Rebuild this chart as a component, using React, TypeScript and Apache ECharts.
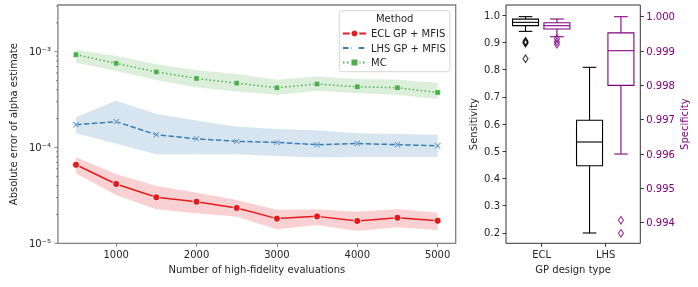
import React, { useEffect, useRef } from 'react';
import * as echarts from 'echarts';

// ---------- data ----------
const evals = [500, 1000, 1500, 2000, 2500, 3000, 3500, 4000, 4500, 5000];

const eclMean = [6.6e-5, 4.16e-5, 3.02e-5, 2.72e-5, 2.34e-5, 1.81e-5, 1.91e-5, 1.71e-5, 1.85e-5, 1.72e-5];
const eclUpper = [7.9e-5, 5.25e-5, 3.96e-5, 3.37e-5, 2.83e-5, 2.23e-5, 2.25e-5, 2.14e-5, 2.26e-5, 2.09e-5];
const eclLower = [5.38e-5, 3.19e-5, 2.26e-5, 2.06e-5, 1.9e-5, 1.4e-5, 1.55e-5, 1.35e-5, 1.47e-5, 1.38e-5];

const lhsMean = [1.73e-4, 1.86e-4, 1.36e-4, 1.23e-4, 1.16e-4, 1.13e-4, 1.07e-4, 1.1e-4, 1.07e-4, 1.04e-4];
const lhsUpper = [2.07e-4, 3.08e-4, 2.24e-4, 1.91e-4, 1.65e-4, 1.56e-4, 1.5e-4, 1.41e-4, 1.38e-4, 1.35e-4];
const lhsLower = [1.41e-4, 1.1e-4, 8.5e-5, 8.5e-5, 8.5e-5, 8.15e-5, 7.9e-5, 8.0e-5, 8.0e-5, 8.0e-5];

const mcMean = [9.3e-4, 7.55e-4, 6.15e-4, 5.25e-4, 4.7e-4, 4.2e-4, 4.6e-4, 4.3e-4, 4.2e-4, 3.75e-4];
const mcUpper = [1.04e-3, 9.0e-4, 7.4e-4, 6.4e-4, 5.85e-4, 5.1e-4, 5.5e-4, 5.15e-4, 5.1e-4, 4.7e-4];
const mcLower = [7.7e-4, 6.3e-4, 5.05e-4, 4.25e-4, 3.85e-4, 3.55e-4, 3.9e-4, 3.7e-4, 3.55e-4, 3.2e-4];

const xTickValues = [1000, 2000, 3000, 4000, 5000];
const yMajorTicks = [1e-5, 1e-4, 1e-3];
const yMinorTicks = [
  2e-5, 3e-5, 4e-5, 5e-5, 6e-5, 7e-5, 8e-5, 9e-5,
  2e-4, 3e-4, 4e-4, 5e-4, 6e-4, 7e-4, 8e-4, 9e-4,
  2e-3, 3e-3,
];

const designTypes = ['ECL', 'LHS'];
// [category index, low whisker, Q1, median, Q3, high whisker]
const sensitivityBoxes = [
  [0, 0.94, 0.961, 0.973, 0.985, 0.994],
  [1, 0.2, 0.447, 0.534, 0.614, 0.808],
];
const sensitivityOutliers = [[0, 0.904], [0, 0.9], [0, 0.896], [0, 0.8396]];
const specificityBoxes = [
  [0, 0.999417, 0.999642, 0.999738, 0.999825, 0.999933],
  [1, 0.996, 0.998, 0.99901, 0.99953, 1.0],
];
const specificityOutliers = [[0, 0.999359], [0, 0.999272], [0, 0.999196], [1, 0.99407], [1, 0.99369]];
const sensitivityTicks = [0.2, 0.3, 0.4, 0.5, 0.6, 0.7, 0.8, 0.9, 1.0];
const specificityTicks = [0.994, 0.995, 0.996, 0.997, 0.998, 0.999, 1.0];

// ---------- style ----------
const FONT = 'DejaVu Sans';
const RED = '#e41a1c';
const BLUE = '#377eb8';
const GREEN = '#4daf4a';
const PURPLE = '#800080';
const TXT = '#262626';
const SPINE_L = '#808080';
const SPINE_R = '#333333';

const SUP: Record<string, string> = { '-': '⁻', '0': '⁰', '1': '¹', '2': '²', '3': '³', '4': '⁴', '5': '⁵', '6': '⁶', '7': '⁷', '8': '⁸', '9': '⁹' };
const toSup = (n: number) => String(n).split('').map((c) => SUP[c] || c).join('');

const X_SYMBOL = 'path://M0,1.4L1.4,0L5,3.6L8.6,0L10,1.4L6.4,5L10,8.6L8.6,10L5,6.4L1.4,10L0,8.6L3.6,5Z';

function bandSeries(lower: number[], upper: number[], color: string) {
  return {
    type: 'custom',
    xAxisIndex: 0,
    yAxisIndex: 0,
    silent: true,
    z: 1,
    data: evals.map((x, i) => [x, lower[i], upper[i]]),
    encode: { x: 0, y: [1, 2] },
    renderItem: (params: any, api: any) => {
      if (params.dataIndex !== 0) return null;
      const pts: number[][] = [];
      for (let i = 0; i < evals.length; i++) pts.push(api.coord([evals[i], upper[i]]));
      for (let i = evals.length - 1; i >= 0; i--) pts.push(api.coord([evals[i], lower[i]]));
      return {
        type: 'polygon',
        shape: { points: pts },
        style: { fill: color, opacity: 0.2, stroke: color, lineWidth: 0.5, strokeOpacity: 0.15 },
      };
    },
  };
}

function tickSeries(values: number[], len: number) {
  return {
    type: 'custom',
    xAxisIndex: 0,
    yAxisIndex: 0,
    silent: true,
    clip: false,
    z: 5,
    data: values.map((v) => [1000, v]),
    encode: { x: 0, y: 1 },
    renderItem: (params: any, api: any) => {
      const p = api.coord([1000, api.value(1)]);
      const x0 = params.coordSys.x;
      return {
        type: 'line',
        shape: { x1: x0 - len, y1: p[1], x2: x0, y2: p[1] },
        style: { stroke: SPINE_L, lineWidth: 1 },
      };
    },
  };
}

function boxSeries(boxes: number[][], yAxisIndex: number, offset: number, color: string) {
  return {
    type: 'custom',
    xAxisIndex: 1,
    yAxisIndex,
    silent: true,
    z: 3,
    data: boxes,
    encode: { x: 0, y: [1, 2, 3, 4, 5] },
    renderItem: (params: any, api: any) => {
      const c = api.value(0);
      const lo = api.coord([c, api.value(1)]);
      const q1 = api.coord([c, api.value(2)]);
      const med = api.coord([c, api.value(3)]);
      const q3 = api.coord([c, api.value(4)]);
      const hi = api.coord([c, api.value(5)]);
      const x = lo[0] + offset;
      const hw = 13;
      const cw = 6.8;
      const st = { stroke: color, lineWidth: 1.1, fill: 'none' };
      return {
        type: 'group',
        children: [
          { type: 'line', shape: { x1: x, y1: hi[1], x2: x, y2: q3[1] }, style: st },
          { type: 'line', shape: { x1: x, y1: q1[1], x2: x, y2: lo[1] }, style: st },
          { type: 'line', shape: { x1: x - cw, y1: hi[1], x2: x + cw, y2: hi[1] }, style: st },
          { type: 'line', shape: { x1: x - cw, y1: lo[1], x2: x + cw, y2: lo[1] }, style: st },
          {
            type: 'rect',
            shape: { x: x - hw, y: q3[1], width: 2 * hw, height: q1[1] - q3[1] },
            style: { stroke: color, fill: '#ffffff', lineWidth: 1.1 },
          },
          { type: 'line', shape: { x1: x - hw, y1: med[1], x2: x + hw, y2: med[1] }, style: st },
        ],
      };
    },
  };
}

function outlierSeries(points: number[][], yAxisIndex: number, offset: number, color: string) {
  return {
    type: 'scatter',
    xAxisIndex: 1,
    yAxisIndex,
    silent: true,
    z: 4,
    data: points,
    symbol: 'diamond',
    symbolSize: [5, 7.5],
    symbolOffset: [offset, 0],
    itemStyle: { color: 'rgba(255,255,255,0)', borderColor: color, borderWidth: 1.1 },
  };
}

export default function App() {
  const ref = useRef<HTMLDivElement>(null);
  useEffect(() => {
    if (!ref.current) return;
    const chart = echarts.init(ref.current, undefined, { renderer: 'svg' });
    const textStyle = { fontFamily: FONT, fontSize: 10, color: TXT };
    const noLine = { show: false, onZero: false };
    const option: any = {
      animation: false,
      textStyle: { fontFamily: FONT },
      grid: [
        { left: 51.7, top: 5, width: 404, height: 238.3, show: true, borderColor: SPINE_L, borderWidth: 1.3, backgroundColor: 'transparent' },
        { left: 506, top: 5, width: 134.3, height: 238.3, show: true, borderColor: SPINE_R, borderWidth: 1, backgroundColor: 'transparent' },
      ],
      xAxis: [
        {
          gridIndex: 0,
          type: 'value',
          min: 275,
          max: 5225,
          axisLine: noLine,
          splitLine: { show: false },
          axisTick: { show: true, length: 3.5, lineStyle: { color: SPINE_L, width: 1 }, customValues: xTickValues },
          axisLabel: { ...textStyle, margin: 6, customValues: xTickValues, formatter: (v: number) => String(v) },
          name: 'Number of high-fidelity evaluations',
          nameLocation: 'middle',
          nameGap: 20,
          nameTextStyle: textStyle,
        },
        {
          gridIndex: 1,
          type: 'value',
          min: -0.558,
          max: 1.54,
          axisLine: noLine,
          splitLine: { show: false },
          axisTick: { show: true, length: 3.5, lineStyle: { color: SPINE_R, width: 1 }, customValues: [0, 1] },
          axisLabel: { ...textStyle, margin: 6, customValues: [0, 1], formatter: (v: number) => designTypes[Math.round(v)] },
          name: 'GP design type',
          nameLocation: 'middle',
          nameGap: 20,
          nameTextStyle: textStyle,
        },
      ],
      yAxis: [
        {
          gridIndex: 0,
          type: 'log',
          logBase: 10,
          min: 1e-5,
          max: 0.00307,
          axisLine: noLine,
          splitLine: { show: false },
          axisTick: { show: false },
          axisLabel: {
            ...textStyle,
            margin: 7,
            showMaxLabel: false,
            formatter: (v: number) => '10' + toSup(Math.round(Math.log10(v))),
          },
          name: 'Absolute error of alpha estimate',
          nameLocation: 'middle',
          nameGap: 35,
          nameTextStyle: textStyle,
        },
        {
          gridIndex: 1,
          type: 'value',
          min: 0.1622,
          max: 1.0367,
          position: 'left',
          axisLine: noLine,
          splitLine: { show: false },
          axisTick: { show: true, length: 3.5, lineStyle: { color: SPINE_R, width: 1 }, customValues: sensitivityTicks },
          axisLabel: { ...textStyle, margin: 6, customValues: sensitivityTicks, formatter: (v: number) => v.toFixed(1) },
          name: 'Sensitivity',
          nameLocation: 'middle',
          nameGap: 28,
          nameTextStyle: textStyle,
        },
        {
          gridIndex: 1,
          type: 'value',
          min: 0.9934,
          max: 1.000341,
          position: 'right',
          axisLine: noLine,
          splitLine: { show: false },
          axisTick: { show: true, length: 3.5, lineStyle: { color: SPINE_R, width: 1 }, customValues: specificityTicks },
          axisLabel: { ...textStyle, color: PURPLE, margin: 6, customValues: specificityTicks, formatter: (v: number) => v.toFixed(3) },
          name: 'Specificity',
          nameLocation: 'middle',
          nameGap: 39,
          nameTextStyle: { ...textStyle, color: PURPLE },
        },
      ],
      legend: {
        data: ['ECL GP + MFIS', 'LHS GP + MFIS', 'MC'],
        orient: 'vertical',
        left: 342,
        top: 28.5,
        padding: 0,
        itemWidth: 23,
        itemHeight: 10,
        itemGap: 4.5,
        textStyle: { ...textStyle, lineHeight: 10 },
        z: 6,
      },
      graphic: [
        {
          type: 'rect',
          z: 5,
          silent: true,
          shape: { x: 339.3, y: 10.7, width: 110.7, height: 61, r: 2.5 },
          style: { fill: 'rgba(255,255,255,0.8)', stroke: '#d6d6d6', lineWidth: 1 },
        },
        {
          type: 'text',
          z: 6,
          silent: true,
          x: 394.7,
          y: 18.3,
          style: { text: 'Method', font: `10px "${FONT}"`, fill: TXT, textAlign: 'center', textVerticalAlign: 'middle' },
        },
      ],
      series: [
        bandSeries(mcLower, mcUpper, GREEN),
        bandSeries(lhsLower, lhsUpper, BLUE),
        bandSeries(eclLower, eclUpper, RED),
        tickSeries(yMajorTicks, 3.5),
        tickSeries(yMinorTicks, 2),
        {
          type: 'line',
          name: 'ECL GP + MFIS',
          xAxisIndex: 0,
          yAxisIndex: 0,
          z: 3,
          data: evals.map((x, i) => [x, eclMean[i]]),
          symbol: 'circle',
          symbolSize: 7,
          lineStyle: { color: RED, width: 1.5 },
          itemStyle: { color: RED, borderColor: '#ffffff', borderWidth: 0.8 },
        },
        {
          type: 'line',
          name: 'LHS GP + MFIS',
          xAxisIndex: 0,
          yAxisIndex: 0,
          z: 3,
          data: evals.map((x, i) => [x, lhsMean[i]]),
          symbol: X_SYMBOL,
          symbolSize: 6.5,
          lineStyle: { color: BLUE, width: 1.5, type: [5.5, 2.4] },
          itemStyle: { color: BLUE, borderColor: '#ffffff', borderWidth: 0.6 },
        },
        {
          type: 'line',
          name: 'MC',
          xAxisIndex: 0,
          yAxisIndex: 0,
          z: 3,
          data: evals.map((x, i) => [x, mcMean[i]]),
          symbol: 'rect',
          symbolSize: 5.5,
          lineStyle: { color: GREEN, width: 1.5, type: [1.5, 2.5] },
          itemStyle: { color: GREEN, borderColor: '#ffffff', borderWidth: 0.6 },
        },
        boxSeries(sensitivityBoxes, 1, -16.2, '#000000'),
        boxSeries(specificityBoxes, 2, 15.2, PURPLE),
        outlierSeries(sensitivityOutliers, 1, -16.2, '#000000'),
        outlierSeries(specificityOutliers, 2, 15.2, PURPLE),
      ],
    };
    chart.setOption(option);
    return () => chart.dispose();
  }, []);
  return <div ref={ref} style={{ position: 'fixed', left: 0, top: 0, width: 698, height: 287 }} />;
}
